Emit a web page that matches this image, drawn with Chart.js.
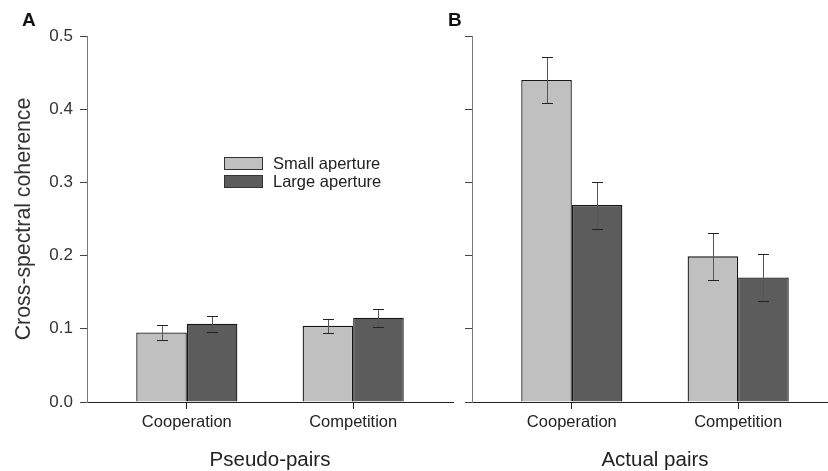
<!DOCTYPE html>
<html>
<head>
<meta charset="utf-8">
<script src="https://cdn.jsdelivr.net/npm/chart.js@4.4.1/dist/chart.umd.min.js"></script>
<style>
  body { margin: 0; width: 828px; height: 471px; overflow: hidden; background: #fff; position: relative; }
  .panel { position: absolute; top: 0; width: 460px; height: 471px; }
  #panelA { left: 0; }
  #panelB { left: 385px; }
</style>
</head>
<body>
<div class="panel" id="panelA"><canvas id="chartA"></canvas></div>
<div class="panel" id="panelB"><canvas id="chartB"></canvas></div>
<script>
// --- data ---
const categories = ['Cooperation', 'Competition'];
const seriesNames = ['Small aperture', 'Large aperture'];
const yTicks = [0, 0.1, 0.2, 0.3, 0.4, 0.5];

const pseudoSmall = [0.095, 0.104];
const pseudoSmallErr = [0.010, 0.010];
const pseudoLarge = [0.107, 0.115];
const pseudoLargeErr = [0.011, 0.012];

const actualSmall = [0.440, 0.199];
const actualSmallErr = [0.031, 0.032];
const actualLarge = [0.269, 0.170];
const actualLargeErr = [0.032, 0.032];

const FONT = '"Liberation Sans", Arial, sans-serif';
const colors = ['#c0c0c0', '#5c5c5c'];

// error bars drawn on top of each bar
const errorBars = {
    id: 'errorBars',
    afterDatasetsDraw(chart) {
        const ctx = chart.ctx;
        const y = chart.scales.y;
        chart.data.datasets.forEach((ds, di) => {
            const meta = chart.getDatasetMeta(di);
            meta.data.forEach((bar, i) => {
                const v = ds.data[i].y, e = ds.errors[i];
                const top = Math.round(y.getPixelForValue(v + e));
                const bot = Math.round(y.getPixelForValue(v - e));
                const cx = Math.round(bar.x);
                ctx.save();
                ctx.lineWidth = 1;
                ctx.strokeStyle = '#555';
                ctx.beginPath();
                ctx.moveTo(cx + 0.5, top);
                ctx.lineTo(cx + 0.5, bot);
                ctx.stroke();
                ctx.strokeStyle = '#222';
                ctx.beginPath();
                ctx.moveTo(cx - 5, top + 0.5);
                ctx.lineTo(cx + 6, top + 0.5);
                ctx.moveTo(cx - 5, bot + 0.5);
                ctx.lineTo(cx + 6, bot + 0.5);
                ctx.stroke();
                ctx.restore();
            });
        });
    }
};

// in-plot legend and the panel letter
const decorations = {
    id: 'decorations',
    afterDraw(chart, args, opts) {
        const ctx = chart.ctx;
        ctx.save();
        ctx.fillStyle = '#111';
        ctx.font = 'bold 19px ' + FONT;
        ctx.textBaseline = 'alphabetic';
        ctx.fillText(opts.letter, opts.letterX, 26);
        if (opts.legend) {
            ctx.font = '16.5px ' + FONT;
            ctx.textBaseline = 'middle';
            chart.data.datasets.forEach((ds, i) => {
                const top = 157 + i * 18;
                ctx.fillStyle = ds.backgroundColor;
                ctx.fillRect(224, top, 39, 13);
                ctx.strokeStyle = '#333';
                ctx.strokeRect(224.5, top + 0.5, 38, 12);
                ctx.fillStyle = '#222';
                ctx.fillText(ds.label, 273, top + 7);
            });
        }
        ctx.restore();
    }
};

const makeDataset = (i, values, errs) => ({
    label: seriesNames[i],
    data: values.map((v, k) => ({ x: k, y: v })),
    errors: errs,
    backgroundColor: colors[i],
    borderColor: '#151515',
    borderWidth: 1.3,
    categoryPercentage: 0.608,
    barPercentage: 1.0
});

const createChart = (canvasId, datasets, opts) => {
    new Chart(document.getElementById(canvasId), {
        type: 'bar',
        data: { datasets: datasets },
        plugins: [errorBars, decorations],
        options: {
            responsive: true,
            maintainAspectRatio: false,
            animation: false,
            layout: { padding: { top: 36, right: 7, left: 0, bottom: 0 } },
            plugins: {
                legend: { display: false },
                tooltip: { enabled: false },
                decorations: { letter: opts.letter, letterX: opts.letterX, legend: opts.legend }
            },
            scales: {
                x: {
                    type: 'linear',
                    min: -0.6,
                    max: 1.6,
                    offset: false,
                    afterBuildTicks: s => { s.ticks = categories.map((c, k) => ({ value: k })); },
                    afterFit: s => { s.height = 69; },
                    grid: { offset: false, drawOnChartArea: false, drawTicks: true, tickLength: 7, color: '#222' },
                    border: { display: true, color: '#222', width: 1 },
                    ticks: {
                        callback: v => categories[v],
                        color: '#222',
                        font: { family: FONT, size: 16.5 },
                        padding: 4,
                        maxRotation: 0,
                        autoSkip: false
                    },
                    title: {
                        display: true,
                        text: opts.xTitle,
                        color: '#222',
                        font: { family: FONT, size: 20.5, lineHeight: 1 },
                        padding: { top: 0, bottom: 0 }
                    }
                },
                y: {
                    min: 0,
                    max: 0.5,
                    afterBuildTicks: s => { s.ticks = yTicks.map(v => ({ value: v })); },
                    afterFit: s => { s.width = 87; },
                    grid: { drawOnChartArea: false, drawTicks: true, tickLength: 7, color: '#444' },
                    border: { display: true, color: '#777', width: 1 },
                    ticks: {
                        display: opts.yLabels,
                        callback: v => v.toFixed(1),
                        color: '#333',
                        font: { family: FONT, size: 17 },
                        padding: 7
                    },
                    title: {
                        display: opts.yLabels,
                        text: 'Cross-spectral coherence',
                        color: '#333',
                        font: { family: FONT, size: 21.3, lineHeight: 1 },
                        padding: { top: 13, bottom: 0 }
                    }
                }
            }
        }
    });
};

createChart('chartA',
    [makeDataset(0, pseudoSmall, pseudoSmallErr), makeDataset(1, pseudoLarge, pseudoLargeErr)],
    { letter: 'A', letterX: 22, legend: true, yLabels: true, xTitle: 'Pseudo-pairs' });

createChart('chartB',
    [makeDataset(0, actualSmall, actualSmallErr), makeDataset(1, actualLarge, actualLargeErr)],
    { letter: 'B', letterX: 63, legend: false, yLabels: false, xTitle: 'Actual pairs' });
</script>
</body>
</html>
